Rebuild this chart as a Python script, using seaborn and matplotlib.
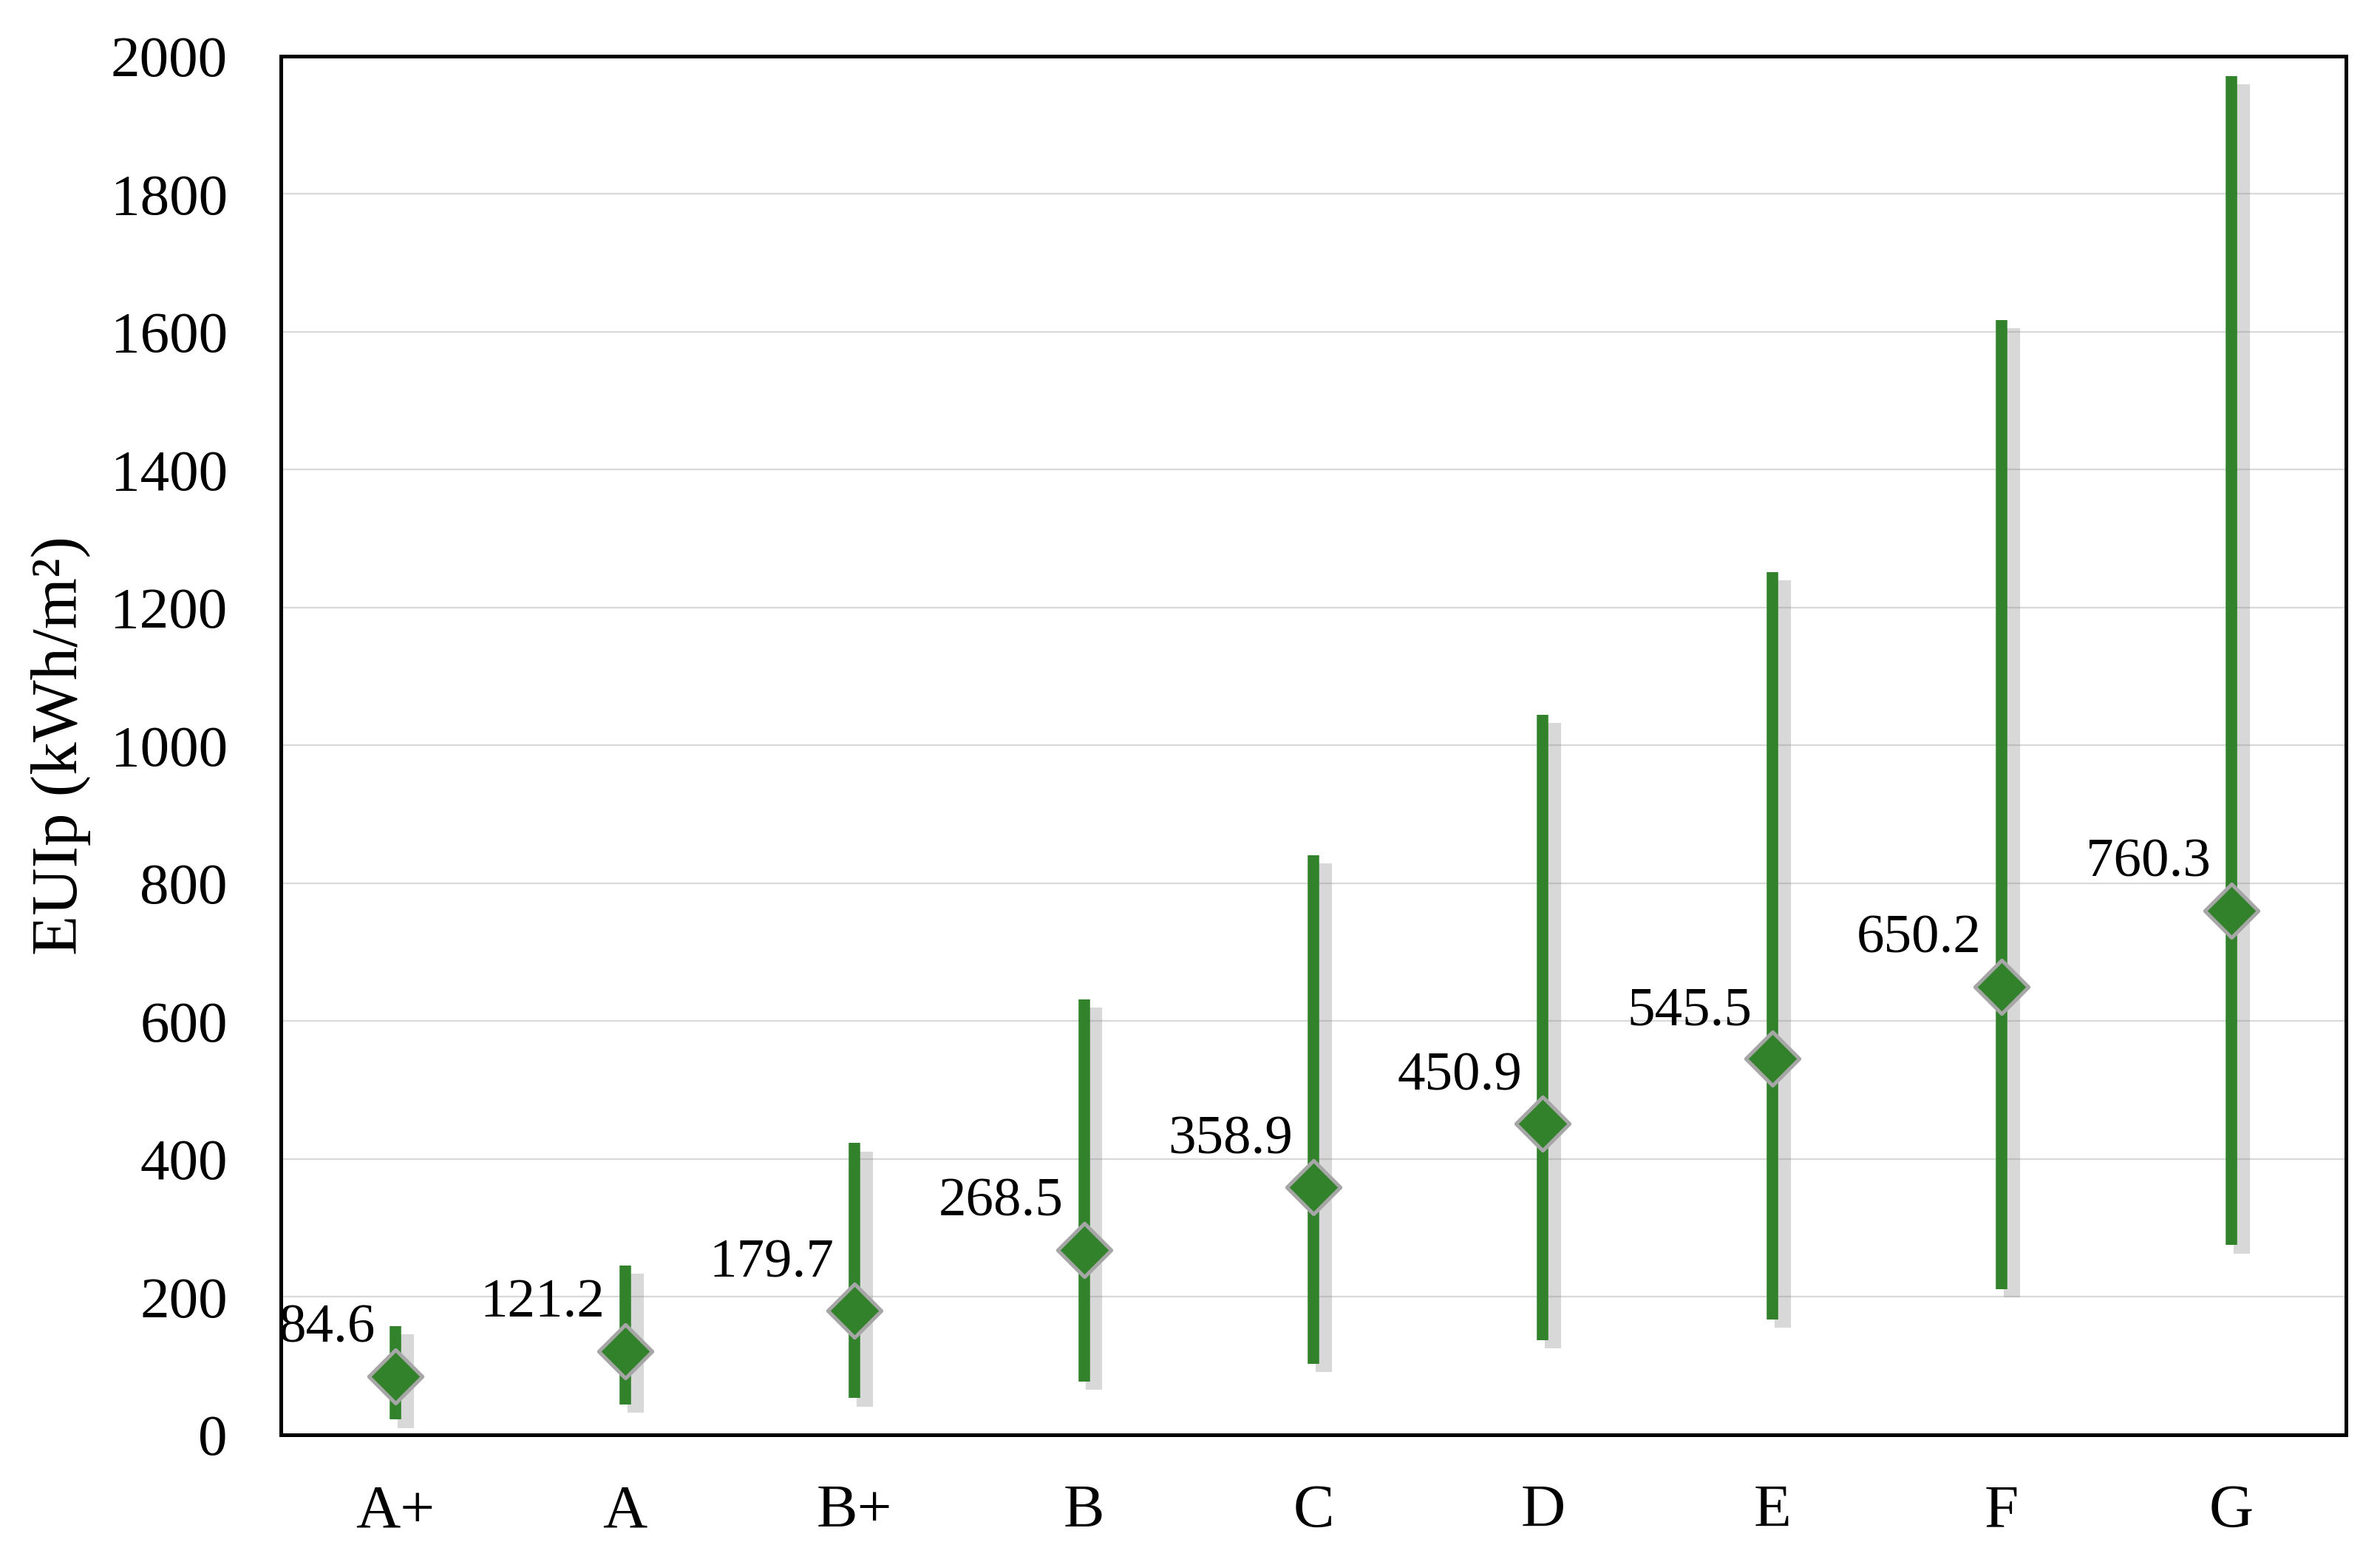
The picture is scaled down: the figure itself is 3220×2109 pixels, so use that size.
import pandas as pd
import numpy as np
import matplotlib
matplotlib.use("Agg")
import matplotlib.pyplot as plt
import matplotlib.patheffects as pe
import seaborn as sns

# energy classes and EUIp values (kWh/m2)
classes = ['A+', 'A', 'B+', 'B', 'C', 'D', 'E', 'F', 'G']
mean_eui = [84.6, 121.2, 179.7, 268.5, 358.9, 450.9, 545.5, 650.2, 760.3]
min_eui = [22, 44, 53, 77, 103, 137, 167, 211, 275]
max_eui = [158, 246, 423, 632, 841, 1044, 1251, 1617, 1971]

df = pd.DataFrame({'Class': classes, 'Mean': mean_eui, 'Min': min_eui, 'Max': max_eui})

sns.set_theme(style="whitegrid")
plt.rcParams['font.family'] = ['Liberation Serif', 'DejaVu Serif']

green = '#31822b'

fig = plt.figure(figsize=(16.1, 10.545), dpi=200)
ax = fig.add_axes([0.118, 0.0797, 0.8677, 0.8843])

# range bars (min to max) with a soft shadow
x_pos = np.arange(len(df))
ax.vlines(x_pos, df['Min'], df['Max'], color=green, linewidth=5.6, zorder=3,
          path_effects=[pe.SimpleLineShadow(offset=(5, -4), shadow_color='gray', alpha=0.3,
                                            linewidth=8),
                        pe.Normal()])

# mean markers
sns.scatterplot(data=df, x='Class', y='Mean', marker='D', s=340, color=green,
                edgecolor='#a6a6a6', linewidth=1.8, zorder=4, ax=ax)

# data labels
for i, v in enumerate(df['Mean']):
    ax.annotate(f"{v:.1f}", (i, v), xytext=(-10, 23), textcoords='offset points',
                ha='right', va='center', fontsize=27, color='black', zorder=5)

ax.set_xlim(-0.5, len(df) - 0.5)
ax.set_ylim(0, 2000)
ax.set_yticks(np.arange(0, 2001, 200))

ax.set_facecolor('white')
ax.grid(axis='y', color='#d9d9d9', linewidth=0.8)
ax.grid(axis='x', visible=False)
for s in ax.spines.values():
    s.set_visible(True)
    s.set_color('black')
    s.set_linewidth(1.8)

ax.tick_params(axis='y', length=0, pad=26, labelsize=28.5, labelcolor='black')
ax.tick_params(axis='x', length=0, pad=24, labelsize=30, labelcolor='black')

ax.set_xlabel('')
ax.set_ylabel('EUIp (kWh/m²)', fontsize=32, color='black')
ax.yaxis.set_label_coords(-0.092, 0.5)

fig.savefig('out.png', dpi=200, facecolor='white')
